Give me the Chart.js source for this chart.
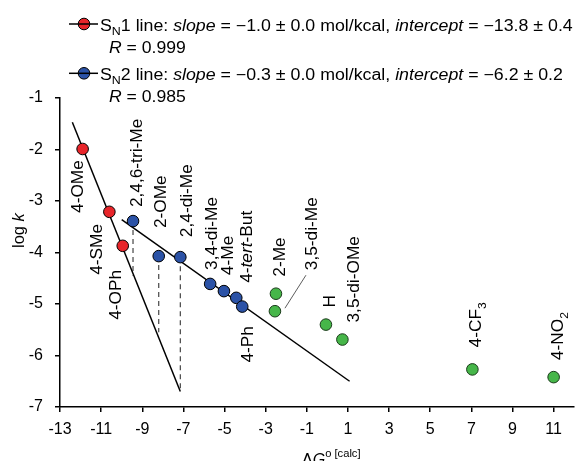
<!DOCTYPE html>
<html>
<head>
<meta charset="utf-8">
<script src="https://cdn.jsdelivr.net/npm/chart.js@4/dist/chart.umd.min.js"></script>
<style>
html,body{margin:0;padding:0;background:#fff;}
#wrap{position:relative;width:581px;height:461px;overflow:hidden;}
</style>
</head>
<body>
<div id="wrap"><canvas id="c" width="581" height="461"></canvas></div>
<script>
// ---------- data ----------
const sn1Labels = ['4-OMe', '4-SMe', '4-OPh'];
const sn1X = [-11.9, -10.6, -9.95];
const sn1Y = [-1.99, -3.21, -3.87];

const sn2Labels = ['2,4,6-tri-Me', '2-OMe', '2,4-di-Me', '3,4-di-Me', '4-Me', '4-<i>tert</i>-But', '4-Ph'];
const sn2X = [-9.45, -8.2, -7.15, -5.7, -5.03, -4.43, -4.14];
const sn2Y = [-3.39, -4.07, -4.09, -4.61, -4.75, -4.88, -5.05];

const otherLabels = ['2-Me', '3,5-di-Me', 'H', '3,5-di-OMe', '4-CF<sub>3</sub>', '4-NO<sub>2</sub>'];
const otherX = [-2.5, -2.55, -0.07, 0.73, 7.05, 11.0];
const otherY = [-4.80, -5.14, -5.40, -5.69, -6.27, -6.42];

const sn1LineX = [-12.4, -7.15];
const sn1LineY = [-1.47, -6.70];
const sn2LineX = [-10.0, 1.08];
const sn2LineY = [-3.36, -6.50];

// dashed drops from SN2 points (by index) down to the SN1 line
const dropIndex = [0, 1, 2];
const dropToY = [-4.45, -5.55, -6.67];

const xTicks = [-13, -11, -9, -7, -5, -3, -1, 1, 3, 5, 7, 9, 11];
const yTicks = [-1, -2, -3, -4, -5, -6, -7];

const legendRows = [
  'S<sub>N</sub>1 line: <i>slope</i> = −1.0 ± 0.0 mol/kcal, <i>intercept</i> = −13.8 ± 0.4',
  '<i>R</i> = 0.999',
  'S<sub>N</sub>2 line: <i>slope</i> = −0.3 ± 0.0 mol/kcal, <i>intercept</i> = −6.2 ± 0.2',
  '<i>R</i> = 0.985'
];
const xTitle = 'Δ<i>G</i><sup>o [calc]</sup>';
const yTitle = 'log <i>k</i>';

// ---------- styling ----------
const FONT = '"Liberation Sans", Arial, Helvetica, sans-serif';
const RED = '#e8252a', BLUE = '#2b52a6', GREEN = '#46b649';

function pts(xs, ys) { return xs.map((x, i) => ({ x: x, y: ys[i] })); }

function parseRich(s) {
  const segs = [];
  const re = /<(i|sub|sup)>(.*?)<\/\1>/g;
  let last = 0, m;
  while ((m = re.exec(s)) !== null) {
    if (m.index > last) segs.push([s.slice(last, m.index), '']);
    segs.push([m[2], m[1]]);
    last = re.lastIndex;
  }
  if (last < s.length) segs.push([s.slice(last), '']);
  return segs;
}

function drawRich(ctx, s, x, y, size) {
  let cx = x;
  for (const [t, st] of parseRich(s)) {
    let fs = size, dy = 0, style = '';
    if (st === 'i') style = 'italic ';
    if (st === 'sub') { fs = size * 0.7; dy = size * 0.28; }
    if (st === 'sup') { fs = size * 0.7; dy = -size * 0.45; }
    ctx.font = style + fs + 'px ' + FONT;
    ctx.fillText(t, cx, y + dy);
    cx += ctx.measureText(t).width;
  }
  return cx - x;
}

// offsets of label (centre-x, bottom-y) from the point, in px
const labelOffsets = {
  0: [[-5, 64], [-13, 63], [-7, 74]],
  1: [[3, -14], [2, -28], [6, -20], [1, -14], [3, -16], [10, -15], [5, 56]],
  2: [[3, -17], [36, -41], [3, -17], [11, -17], [3, -22], [4, -17]]
};
const labelSets = { 0: sn1Labels, 1: sn2Labels, 2: otherLabels };

const annot = {
  id: 'annot',
  afterDraw(chart) {
    const ctx = chart.ctx;
    ctx.save();
    ctx.fillStyle = '#000';
    ctx.textBaseline = 'alphabetic';
    ctx.textAlign = 'left';

    // legend
    const mk = [[RED, 24, 30.7], [BLUE, 73.3, 80]];
    mk.forEach(([col, my, base], r) => {
      ctx.beginPath();
      ctx.arc(84, my, 5.8, 0, Math.PI * 2);
      ctx.fillStyle = col; ctx.fill();
      ctx.lineWidth = 1; ctx.strokeStyle = '#000'; ctx.stroke();
      ctx.beginPath(); ctx.moveTo(69, my); ctx.lineTo(98, my);
      ctx.lineWidth = 1.5; ctx.stroke();
      ctx.fillStyle = '#000';
      ctx.save(); ctx.translate(100, base); ctx.scale(1.11, 1);
      drawRich(ctx, legendRows[r * 2], 0, 0, 16);
      ctx.restore();
      ctx.save(); ctx.translate(109, base + 22.3); ctx.scale(1.1, 1);
      drawRich(ctx, legendRows[r * 2 + 1], 0, 0, 16);
      ctx.restore();
    });

    // point labels
    [0, 1, 2].forEach(di => {
      const meta = chart.getDatasetMeta(di);
      meta.data.forEach((el, i) => {
        const [dx, dy] = labelOffsets[di][i];
        ctx.save();
        ctx.translate(el.x + dx, el.y + dy);
        ctx.rotate(-Math.PI / 2);
        ctx.scale(1.08, 1);
        drawRich(ctx, labelSets[di][i], 0, 5.7, 16);
        ctx.restore();
        if (di === 2 && i === 1) {
          ctx.beginPath();
          ctx.moveTo(el.x + 10, el.y - 3);
          ctx.lineTo(el.x + 31, el.y - 36);
          ctx.lineWidth = 0.8; ctx.strokeStyle = '#333'; ctx.stroke();
        }
      });
    });

    // y title
    ctx.save();
    ctx.translate(18 + 5.7, 231 + 17);
    ctx.rotate(-Math.PI / 2);
    drawRich(ctx, yTitle, 0, 0, 16.5);
    ctx.restore();

    // x title
    drawRich(ctx, xTitle, 302, 464.5, 16);
    ctx.restore();
  }
};

const datasets = [
  { label: 'SN1', data: pts(sn1X, sn1Y), backgroundColor: RED, borderColor: '#000', borderWidth: 1, pointRadius: 5.8, order: 0 },
  { label: 'SN2', data: pts(sn2X, sn2Y), backgroundColor: BLUE, borderColor: '#000', borderWidth: 1, pointRadius: 5.8, order: 0 },
  { label: 'other', data: pts(otherX, otherY), backgroundColor: GREEN, borderColor: '#1a3a1a', borderWidth: 1, pointRadius: 5.8, order: 0 },
  { label: 'SN1 fit', data: pts(sn1LineX, sn1LineY), showLine: true, pointRadius: 0, borderColor: '#000', borderWidth: 1.5, order: 2 },
  { label: 'SN2 fit', data: pts(sn2LineX, sn2LineY), showLine: true, pointRadius: 0, borderColor: '#000', borderWidth: 1.5, order: 2 }
];
dropIndex.forEach((pi, k) => {
  datasets.push({
    label: 'drop' + k,
    data: [{ x: sn2X[pi], y: sn2Y[pi] }, { x: sn2X[pi], y: dropToY[k] }],
    showLine: true, pointRadius: 0, borderColor: '#444', borderWidth: 1.2, borderDash: [5, 4], order: 3
  });
});

new Chart(document.getElementById('c').getContext('2d'), {
  type: 'scatter',
  data: { datasets: datasets },
  options: {
    responsive: false,
    animation: false,
    devicePixelRatio: 1,
    layout: { padding: { top: 98, right: 5, left: 0, bottom: 0 } },
    plugins: { legend: { display: false }, tooltip: { enabled: false } },
    scales: {
      x: {
        type: 'linear', min: -13, max: 12,
        afterBuildTicks: s => { s.ticks = xTicks.map(v => ({ value: v })); },
        afterFit: s => { s.height = 54; },
        grid: { display: true, drawOnChartArea: false, drawTicks: true, tickLength: 5, color: '#000', lineWidth: 1.5 },
        border: { display: true, color: '#000', width: 1.5 },
        ticks: { color: '#000', font: { family: FONT, size: 16 }, padding: 8, maxRotation: 0, autoSkip: false }
      },
      y: {
        type: 'linear', min: -7, max: -1,
        afterBuildTicks: s => { s.ticks = yTicks.map(v => ({ value: v })); },
        afterFit: s => { s.width = 60; },
        grid: { display: true, drawOnChartArea: false, drawTicks: true, tickLength: 5, color: '#000', lineWidth: 1.5 },
        border: { display: true, color: '#000', width: 1.5 },
        ticks: { color: '#000', font: { family: FONT, size: 16 }, padding: 12, autoSkip: false }
      }
    }
  },
  plugins: [annot]
});
</script>
</body>
</html>
